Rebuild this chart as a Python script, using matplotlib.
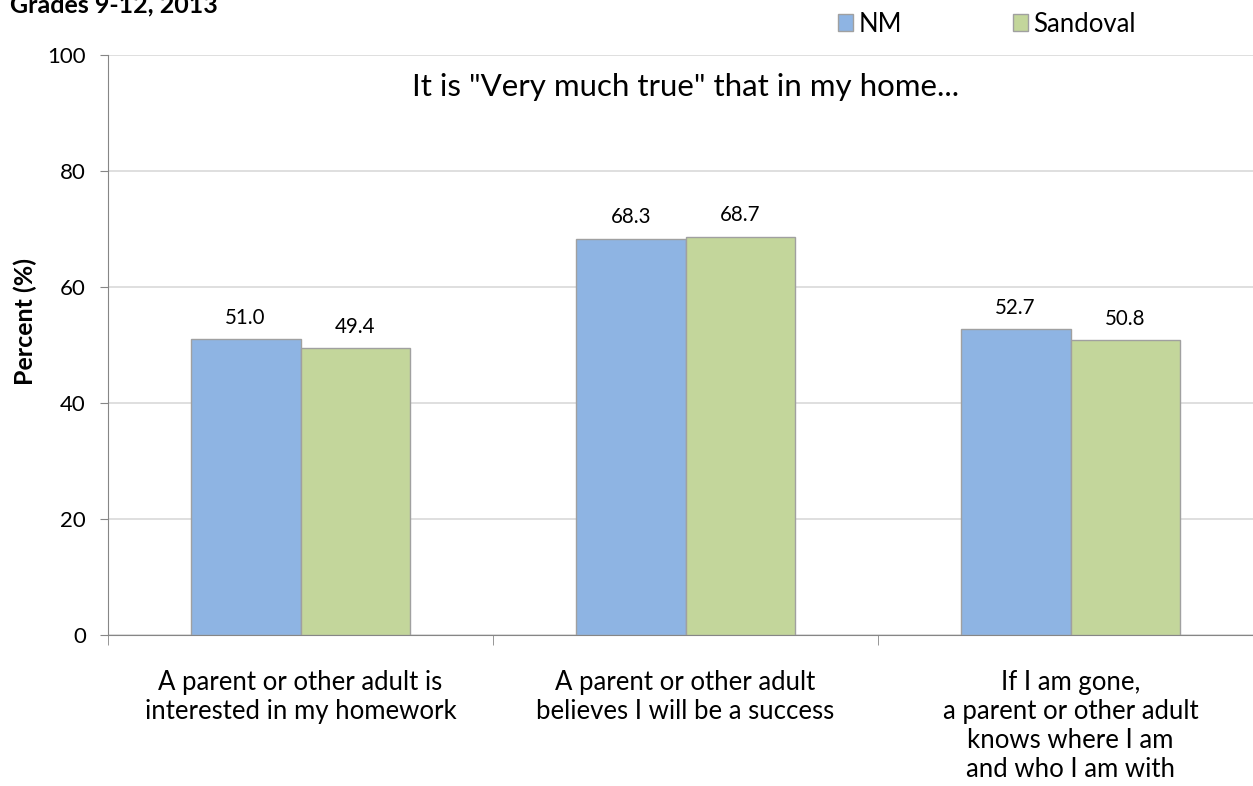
import numpy as np
import matplotlib
matplotlib.use("Agg")
from matplotlib import pyplot as plt
from matplotlib.ticker import FixedLocator

categories = [
    "A parent or other adult is\ninterested in my homework",
    "A parent or other adult\nbelieves I will be a success",
    "If I am gone,\na parent or other adult\nknows where I am\nand who I am with",
]
series_names = ["NM", "Sandoval"]
nm_values = [51.0, 68.3, 52.7]
sandoval_values = [49.4, 68.7, 50.8]
colors = ["#8EB4E3", "#C3D69B"]
y_ticks = [0, 20, 40, 60, 80, 100]

plt.rcParams['font.family'] = ['Lato', 'DejaVu Sans']

fig = plt.figure(figsize=(12.53, 7.86), dpi=100)
# plot area runs past the right edge, as in the source image
ax = fig.add_axes([108 / 1253, 1 - 635 / 786, 1155 / 1253, 580 / 786])

x = np.arange(len(categories))
w = 0.285
bars = []
for k, (vals, name) in enumerate(zip([nm_values, sandoval_values], series_names)):
    b = ax.bar(x + (k - 0.5) * w, vals, width=w, color=colors[k],
               edgecolor="#A0A0A0", linewidth=1, label=name, zorder=3)
    bars.append(b)
    for xi, v in zip(x + (k - 0.5) * w, vals):
        ax.text(xi, v + 2.0, f"{v:.1f}", ha="center", va="bottom", fontsize=14.8)

ax.set_xlim(-0.5, len(categories) - 0.5)
ax.set_ylim(0, 100)
ax.set_yticks(y_ticks)
ax.tick_params(axis="y", labelsize=16, length=6, color="#868686", pad=10)
ax.set_xticks(x)
ax.set_xticklabels(categories, fontsize=18.5, linespacing=1.2)
ax.tick_params(axis="x", which="major", length=0, pad=25)
ax.xaxis.set_minor_locator(FixedLocator(np.arange(-0.5, len(categories), 1.0)))
ax.tick_params(axis="x", which="minor", length=7, color="#868686")

ax.grid(axis="y", color="#D9D9D9", linewidth=1.2, zorder=0)
for side in ["top", "right"]:
    ax.spines[side].set_visible(False)
ax.spines["left"].set_color("#868686")
ax.spines["bottom"].set_color("#868686")

ax.set_ylabel("Percent (%)", fontsize=18, fontweight="bold")
ax.yaxis.set_label_coords(-0.0615, 0.541)
ax.text(1.0, 94.5, 'It is "Very much true" that in my home...',
        ha="center", va="center", fontsize=22.5)

fig.text(10 / 1253, 1 - 5 / 786, "Grades 9-12, 2013", fontsize=18, fontweight="bold",
         ha="left", va="center")

fig.legend(handles=bars, labels=series_names, loc="center left",
           bbox_to_anchor=(838 / 1253, 1 - 24 / 786), ncol=2, frameon=False,
           fontsize=18.5, handlelength=0.6, handleheight=0.6, handletextpad=0.2,
           columnspacing=4.3, borderaxespad=0, borderpad=0)

fig.savefig("out.png", dpi=100)
